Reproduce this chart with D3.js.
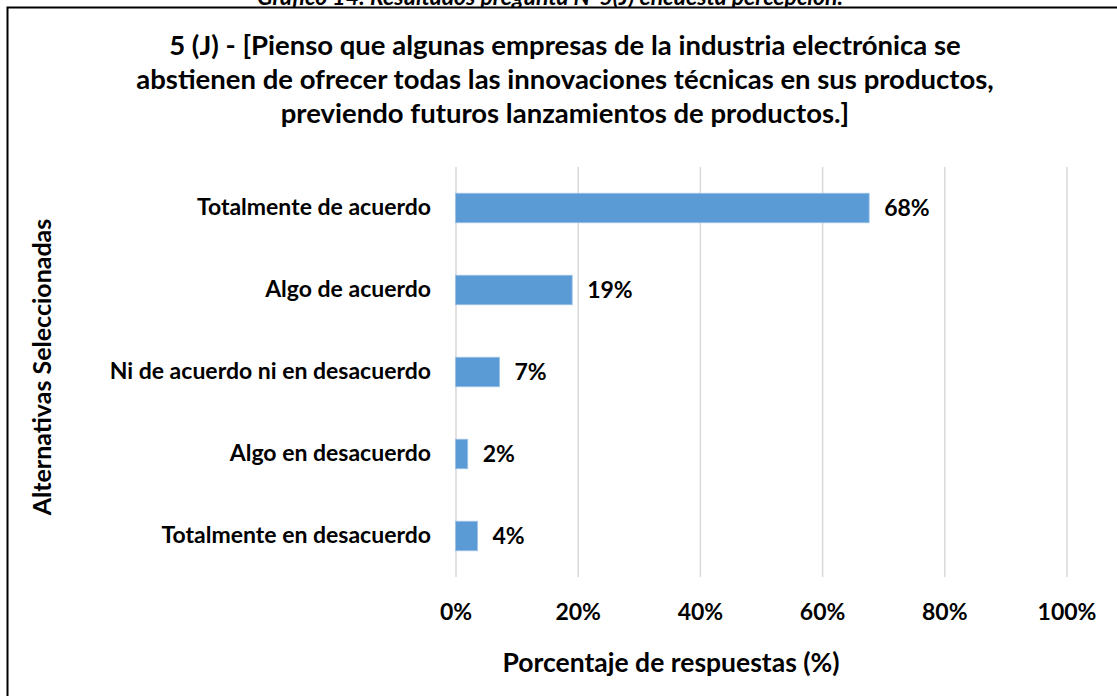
<!DOCTYPE html>
<html>
<head>
<meta charset="utf-8">
<script src="https://cdn.jsdelivr.net/npm/d3@7"></script>
<style>
  html, body { margin: 0; padding: 0; background: #fff; }
  svg text { font-family: "Lato", "Carlito", "Calibri", sans-serif; font-weight: bold; fill: #000; }
</style>
</head>
<body>
<svg id="chart" width="1117" height="696"></svg>
<script>
const categories = [
  "Totalmente de acuerdo",
  "Algo de acuerdo",
  "Ni de acuerdo ni en desacuerdo",
  "Algo en desacuerdo",
  "Totalmente en desacuerdo"
];
const values = [0.677, 0.191, 0.072, 0.020, 0.036];
const tickValues = [0, 0.2, 0.4, 0.6, 0.8, 1.0];
const titleLines = [
  "5 (J) - [Pienso que algunas empresas de la industria electrónica se",
  "abstienen de ofrecer todas las innovaciones técnicas en sus productos,",
  "previendo futuros lanzamientos de productos.]"
];
const captionText = "Gráfico 14: Resultados pregunta N°5(J) encuesta percepción.";
const xAxisTitle = "Porcentaje de respuestas (%)";
const yAxisTitle = "Alternativas Seleccionadas";

const svg = d3.select("#chart");

// partly hidden caption at the very top (as in the reference)
svg.append("text")
  .attr("x", 550).attr("y", 5)
  .attr("text-anchor", "middle")
  .style("font-style", "italic")
  .style("font-size", "23px")
  .text(captionText);

// frame
svg.append("rect")
  .attr("x", 7.5).attr("y", 7.5)
  .attr("width", 1120).attr("height", 700)
  .attr("fill", "#fff").attr("stroke", "#000").attr("stroke-width", 2);

// title
svg.append("g").selectAll("text").data(titleLines).join("text")
  .attr("x", 565)
  .attr("y", (d, i) => 55 + i * 34)
  .attr("text-anchor", "middle")
  .style("font-size", "27.5px")
  .text(d => d);

const x = d3.scaleLinear().domain([0, 1]).range([455.5, 1066.5]);
const y = d3.scaleBand().domain(categories).range([167, 577]).paddingInner(0.64).paddingOuter(0.32);

// gridlines
svg.append("g")
  .attr("transform", `translate(0,${y.range()[1]})`)
  .call(d3.axisBottom(x).tickValues(tickValues).tickSize(-(y.range()[1] - y.range()[0])).tickFormat(""))
  .call(g => g.select(".domain").remove())
  .call(g => g.selectAll(".tick line").attr("stroke", "#d9d9d9").attr("stroke-width", 1.5));

// tick labels
svg.append("g")
  .attr("transform", `translate(0,${y.range()[1]})`)
  .call(d3.axisBottom(x).tickValues(tickValues).tickSize(0).tickPadding(27).tickFormat(d3.format(".0%")))
  .call(g => g.select(".domain").remove())
  .call(g => g.selectAll("text").style("font-size", "23px").attr("font-family", null).attr("fill", "#000"));

// bars
svg.append("g").selectAll("rect").data(values).join("rect")
  .attr("x", x(0))
  .attr("y", (d, i) => y(categories[i]))
  .attr("width", d => x(d) - x(0))
  .attr("height", y.bandwidth())
  .attr("fill", "#5b9bd5")
  .attr("stroke", "#9dc3e6").attr("stroke-width", 0.8);

// data labels
svg.append("g").selectAll("text").data(values).join("text")
  .attr("x", d => x(d) + 15)
  .attr("y", (d, i) => y(categories[i]) + y.bandwidth() / 2)
  .attr("dy", "0.36em")
  .style("font-size", "23px")
  .text(d => d3.format(".0%")(d));

// category labels
svg.append("g")
  .attr("transform", `translate(${x(0)},0)`)
  .call(d3.axisLeft(y).tickSize(0).tickPadding(24.5))
  .call(g => g.select(".domain").remove())
  .call(g => g.selectAll("text").style("font-size", "23px").attr("font-family", null).attr("fill", "#000"));

// axis titles
svg.append("text")
  .attr("x", 671).attr("y", 672)
  .attr("text-anchor", "middle")
  .style("font-size", "26.5px")
  .text(xAxisTitle);

svg.append("text")
  .attr("transform", "translate(51,367) rotate(-90)")
  .attr("text-anchor", "middle")
  .style("font-size", "25px")
  .text(yAxisTitle);
</script>
</body>
</html>
